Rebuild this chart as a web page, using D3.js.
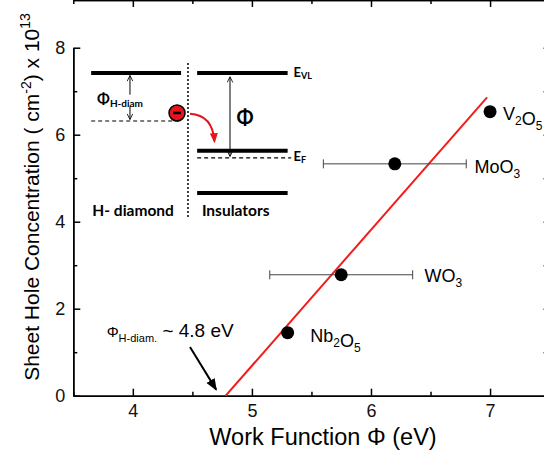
<!DOCTYPE html>
<html>
<head>
<meta charset="utf-8">
<script src="https://cdn.jsdelivr.net/npm/d3@7"></script>
<style>
  body { margin: 0; background: #fff; }
  svg { display: block; }
  .axis path, .axis line { stroke: #000; stroke-width: 1.5; }
  .axis text { font-family: "Liberation Sans", Arial, sans-serif; font-size: 18px; fill: #111; }
  .inset text { font-family: Lato, "Open Sans", sans-serif; font-weight: bold; fill: #000; }
</style>
</head>
<body>
<svg id="chart" width="544" height="454"></svg>
<script>
// oxide data
var materials = ["Nb2O5", "WO3", "MoO3", "V2O5"];
var workFunction = [5.30, 5.75, 6.20, 7.00];
var holeConc = [1.45, 2.78, 5.33, 6.53];
var errLow = [null, 5.15, 5.60, null];
var errHigh = [null, 6.35, 6.80, null];

// linear fit line (red)
var fitX = [4.78, 6.975];
var fitY = [0, 6.86];

var xTicks = [4, 5, 6, 7];
var yTicks = [0, 2, 4, 6, 8];
var xMinor = [3.5, 4.5, 5.5, 6.5, 7.5];
var yMinor = [1, 3, 5, 7];

var svg = d3.select("#chart");

var x = d3.scaleLinear().domain([3.5, 7.5]).range([73.3, 549.6]);
var y = d3.scaleLinear().domain([0, 8]).range([395.7, 47.7]);

var left = x.range()[0], right = x.range()[1];
var bottom = y.range()[0], top = y.range()[1];

// frame and axes, ticks pointing inward
svg.append("g").attr("class", "axis")
  .attr("transform", "translate(0," + bottom + ")")
  .call(d3.axisBottom(x).tickValues(xTicks).tickSizeInner(-7).tickSizeOuter(0).tickPadding(9).tickFormat(d3.format("d")));
svg.append("g").attr("class", "axis")
  .attr("transform", "translate(0," + bottom + ")")
  .call(d3.axisBottom(x).tickValues(xMinor).tickSizeInner(-4).tickSizeOuter(0).tickFormat(""));
svg.append("g").attr("class", "axis")
  .attr("transform", "translate(" + left + ",0)")
  .call(d3.axisLeft(y).tickValues(yTicks).tickSizeInner(-7).tickSizeOuter(0).tickPadding(8).tickFormat(d3.format("d")));
svg.append("g").attr("class", "axis")
  .attr("transform", "translate(" + left + ",0)")
  .call(d3.axisLeft(y).tickValues(yMinor).tickSizeInner(-4).tickSizeOuter(0).tickFormat(""));
svg.append("g").attr("class", "axis")
  .attr("transform", "translate(0," + top + ")")
  .call(d3.axisTop(x).tickValues(xTicks).tickSizeInner(-7).tickSizeOuter(0).tickFormat(""));
svg.append("g").attr("class", "axis")
  .attr("transform", "translate(0," + top + ")")
  .call(d3.axisTop(x).tickValues(xMinor).tickSizeInner(-4).tickSizeOuter(0).tickFormat(""));
svg.append("g").attr("class", "axis")
  .attr("transform", "translate(" + right + ",0)")
  .call(d3.axisRight(y).tickValues(yTicks.concat(yMinor)).tickSizeInner(-6).tickSizeOuter(0).tickFormat(""));

// axis titles
svg.append("text")
  .attr("x", 323).attr("y", 445)
  .attr("text-anchor", "middle")
  .style("font-family", "Liberation Sans, Arial, sans-serif")
  .style("font-size", "23.5px")
  .text("Work Function \u03A6 (eV)");

var yTitle = svg.append("text")
  .attr("transform", "translate(39,197) rotate(-90)")
  .attr("text-anchor", "middle")
  .style("font-family", "Liberation Sans, Arial, sans-serif")
  .style("font-size", "21px");
yTitle.append("tspan").text("Sheet Hole Concentration ( cm");
yTitle.append("tspan").attr("dy", -8).style("font-size", "14px").text("-2");
yTitle.append("tspan").attr("dy", 8).text(") x 10");
yTitle.append("tspan").attr("dy", -9).style("font-size", "14px").text("13");

// fit line
svg.append("line")
  .attr("x1", x(fitX[0])).attr("y1", y(fitY[0]))
  .attr("x2", x(fitX[1])).attr("y2", y(fitY[1]))
  .attr("stroke", "#f21c1c").attr("stroke-width", 2);

// error bars
var pts = materials.map(function(m, i) {
  return { name: m, wf: workFunction[i], n: holeConc[i], lo: errLow[i], hi: errHigh[i] };
});
var eb = svg.append("g").attr("stroke", "#444").attr("stroke-width", 1);
pts.filter(function(d) { return d.lo != null; }).forEach(function(d) {
  eb.append("line").attr("x1", x(d.lo)).attr("x2", x(d.hi)).attr("y1", y(d.n)).attr("y2", y(d.n));
  eb.append("line").attr("x1", x(d.lo)).attr("x2", x(d.lo)).attr("y1", y(d.n) - 4.5).attr("y2", y(d.n) + 4.5);
  eb.append("line").attr("x1", x(d.hi)).attr("x2", x(d.hi)).attr("y1", y(d.n) - 4.5).attr("y2", y(d.n) + 4.5);
});

svg.selectAll(".dot").data(pts).enter().append("circle")
  .attr("class", "dot")
  .attr("cx", function(d) { return x(d.wf); })
  .attr("cy", function(d) { return y(d.n); })
  .attr("r", 6.5)
  .attr("fill", "#000");

// point labels with subscripts
var labelPos = [[5.49, 1.23], [6.45, 2.61], [6.87, 5.13], [7.108, 6.34]];
pts.forEach(function(d, i) {
  var t = svg.append("text")
    .attr("x", x(labelPos[i][0])).attr("y", y(labelPos[i][1]))
    .style("font-family", "Liberation Sans, Arial, sans-serif")
    .style("font-size", "18px");
  d.name.split(/(\d)/).forEach(function(part) {
    if (part === "") return;
    if (/\d/.test(part)) {
      t.append("tspan").attr("dy", 5).style("font-size", "12px").text(part);
      t.append("tspan").attr("dy", -5).text("");
    } else {
      t.append("tspan").text(part);
    }
  });
});

// annotation: H-diamond work function
svg.append("defs").append("marker")
  .attr("id", "headBlack").attr("viewBox", "0 0 10 10")
  .attr("refX", 9).attr("refY", 5)
  .attr("markerWidth", 6).attr("markerHeight", 6)
  .attr("orient", "auto")
  .append("path").attr("d", "M0,1 L10,5 L0,9 Z").attr("fill", "#000");
d3.select("defs").append("marker")
  .attr("id", "headRed").attr("viewBox", "0 0 10 10")
  .attr("refX", 8).attr("refY", 5)
  .attr("markerWidth", 5).attr("markerHeight", 5)
  .attr("orient", "auto")
  .append("path").attr("d", "M0,1 L10,5 L0,9 Z").attr("fill", "#e8141c");
d3.select("defs").append("marker")
  .attr("id", "headOpen").attr("viewBox", "0 0 10 10")
  .attr("refX", 9).attr("refY", 5)
  .attr("markerWidth", 7).attr("markerHeight", 7)
  .attr("orient", "auto")
  .append("path").attr("d", "M1,1 L9,5 L1,9").attr("fill", "none").attr("stroke", "#000").attr("stroke-width", 1.2);

svg.append("line")
  .attr("x1", x(4.48)).attr("y1", y(1.12))
  .attr("x2", x(4.70)).attr("y2", y(0.14))
  .attr("stroke", "#000").attr("stroke-width", 2)
  .attr("marker-end", "url(#headBlack)");

var ann = svg.append("text")
  .attr("x", x(3.78)).attr("y", y(1.35))
  .style("font-family", "Liberation Sans, Arial, sans-serif")
  .style("font-size", "19px");
ann.append("tspan").style("font-size", "15px").text("\u03A6");
ann.append("tspan").attr("dy", 5).style("font-size", "11px").text("H-diam.");
ann.append("tspan").attr("dy", -5).text(" ~  4.8 eV");

// inset: band diagram (placed in data space of the main axes)
var inset = svg.append("g").attr("class", "inset");
var levelsThick = [
  [3.65, 4.405, 7.42], [4.54, 5.30, 7.42],
  [4.54, 5.30, 5.63], [4.54, 5.30, 4.66]
];
var levelsDashed = [[3.65, 4.405, 6.315], [4.54, 5.33, 5.465]];

levelsThick.forEach(function(l) {
  inset.append("line")
    .attr("x1", x(l[0])).attr("x2", x(l[1]))
    .attr("y1", y(l[2])).attr("y2", y(l[2]))
    .attr("stroke", "#000").attr("stroke-width", 4);
});
levelsDashed.forEach(function(l) {
  inset.append("line")
    .attr("x1", x(l[0])).attr("x2", x(l[1]))
    .attr("y1", y(l[2])).attr("y2", y(l[2]))
    .attr("stroke", "#000").attr("stroke-width", 1.2)
    .attr("stroke-dasharray", "4,3");
});
inset.append("line")
  .attr("x1", x(4.463)).attr("x2", x(4.463))
  .attr("y1", y(7.65)).attr("y2", y(4.10))
  .attr("stroke", "#000").attr("stroke-width", 1.5)
  .attr("stroke-dasharray", "2,2");

// phi H-diam arrows (split around label)
inset.append("line")
  .attr("x1", x(3.976)).attr("x2", x(3.976))
  .attr("y1", y(6.92)).attr("y2", y(7.36))
  .attr("stroke", "#000").attr("stroke-width", 1)
  .attr("marker-end", "url(#headOpen)");
inset.append("line")
  .attr("x1", x(3.976)).attr("x2", x(3.976))
  .attr("y1", y(6.65)).attr("y2", y(6.35))
  .attr("stroke", "#000").attr("stroke-width", 1)
  .attr("marker-end", "url(#headOpen)");
var phiH = inset.append("text").attr("x", x(3.70)).attr("y", y(6.70)).style("font-size", "15px");
phiH.append("tspan").text("\u03A6");
phiH.append("tspan").attr("dy", 3).style("font-size", "10px").text("H-diam");

// phi (insulator) double arrow
inset.append("line")
  .attr("x1", x(4.816)).attr("x2", x(4.816))
  .attr("y1", y(6.5)).attr("y2", y(7.33))
  .attr("stroke", "#000").attr("stroke-width", 1)
  .attr("marker-end", "url(#headOpen)");
inset.append("line")
  .attr("x1", x(4.816)).attr("x2", x(4.816))
  .attr("y1", y(6.5)).attr("y2", y(5.5))
  .attr("stroke", "#000").attr("stroke-width", 1)
  .attr("marker-end", "url(#headOpen)");
inset.append("text").attr("x", x(4.87)).attr("y", y(6.23)).style("font-size", "20px").text("\u03A6");

// electron and transfer arrow
inset.append("circle")
  .attr("cx", x(4.371)).attr("cy", y(6.50)).attr("r", 8)
  .attr("fill", "#e8141c").attr("stroke", "#000").attr("stroke-width", 1.5);
inset.append("line")
  .attr("x1", x(4.371) - 4).attr("x2", x(4.371) + 4)
  .attr("y1", y(6.50)).attr("y2", y(6.50))
  .attr("stroke", "#000").attr("stroke-width", 2.5);
inset.append("path")
  .attr("d", "M" + x(4.48) + "," + y(6.48) + " Q" + x(4.67) + "," + y(6.45) + " " + x(4.685) + "," + y(5.85))
  .attr("fill", "none").attr("stroke", "#e8141c").attr("stroke-width", 2)
  .attr("marker-end", "url(#headRed)");

// level labels
var evl = inset.append("text").attr("x", x(5.35)).attr("y", y(7.33)).style("font-size", "13px");
evl.append("tspan").text("E");
evl.append("tspan").attr("dy", 2).style("font-size", "9px").text("VL");
var ef = inset.append("text").attr("x", x(5.35)).attr("y", y(5.40)).style("font-size", "13px");
ef.append("tspan").text("E");
ef.append("tspan").attr("dy", 2).style("font-size", "9px").text("F");

inset.append("text").attr("x", x(3.66)).attr("y", y(4.12)).style("font-size", "15.5px").text("H- diamond");
inset.append("text").attr("x", x(4.58)).attr("y", y(4.12)).style("font-size", "15.5px").text("Insulators");
</script>
</body>
</html>
